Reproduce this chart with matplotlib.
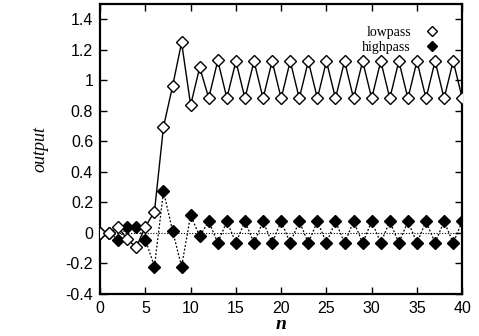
import matplotlib
matplotlib.use("Agg")

import numpy as np
import matplotlib.pyplot as plt

# valores
n = np.arange(0, 41)
lowpass = [0.0, 0.0, 0.037, -0.042, -0.094, 0.042, 0.138, 0.695, 0.96, 1.248,
           0.838, 1.085, 0.884, 1.13, 0.884, 1.125] + [0.882, 1.126] * 12 + [0.882]
highpass = [0.0, 0.0, -0.044, 0.042, 0.042, -0.044, -0.22, 0.272, 0.015, -0.22,
            0.116, -0.022, 0.077, -0.066, 0.077, -0.066] + [0.077, -0.066] * 12 + [0.077]

plt.rcParams["font.family"] = ["Liberation Sans", "DejaVu Sans"]

fig = plt.figure(figsize=(4.79, 3.36), dpi=100)
ax = fig.add_axes([0.209, 0.125, 0.756, 0.863])

ax.axhline(0, color="black", lw=0.8, ls=(0, (1, 1.5)), zorder=1)
ax.plot(n, lowpass, color="black", lw=1.0, marker="D", ms=5.8, mfc="white",
        mec="black", mew=1.0, label="lowpass", zorder=3)
ax.plot(n, highpass, color="black", lw=0.9, ls=(0, (1.5, 1.5)), marker="D", ms=5.8,
        mfc="black", mec="black", label="highpass", zorder=2)

ax.set_xlim(0, 40)
ax.set_ylim(-0.4, 1.5)
ax.set_xticks(np.arange(0, 41, 5))
ax.set_yticks(np.arange(-0.4, 1.41, 0.2))
ax.set_yticklabels(["-0.4", "-0.2", "0", "0.2", "0.4", "0.6", "0.8", "1", "1.2", "1.4"])
ax.tick_params(direction="in", top=True, right=True, length=5, width=1,
               labelsize=11.5, pad=5)
for s in ax.spines.values():
    s.set_linewidth(1.6)

ax.set_ylabel("output", family="Liberation Serif", style="italic", fontsize=13,
              labelpad=12)
ax.set_xlabel("n", family="Liberation Serif", style="italic", weight="bold", fontsize=14,
              labelpad=0)

leg = ax.legend(loc="upper right", frameon=False, markerfirst=False, handlelength=1.2,
                handletextpad=0.9, labelspacing=0.1, borderaxespad=1.2,
                prop={"family": "Liberation Serif", "size": 10})
for h in leg.legend_handles:
    h.set_linestyle("none")
    h.set_markersize(5.5)

fig.savefig("out.png", dpi=100)
plt.close(fig)
